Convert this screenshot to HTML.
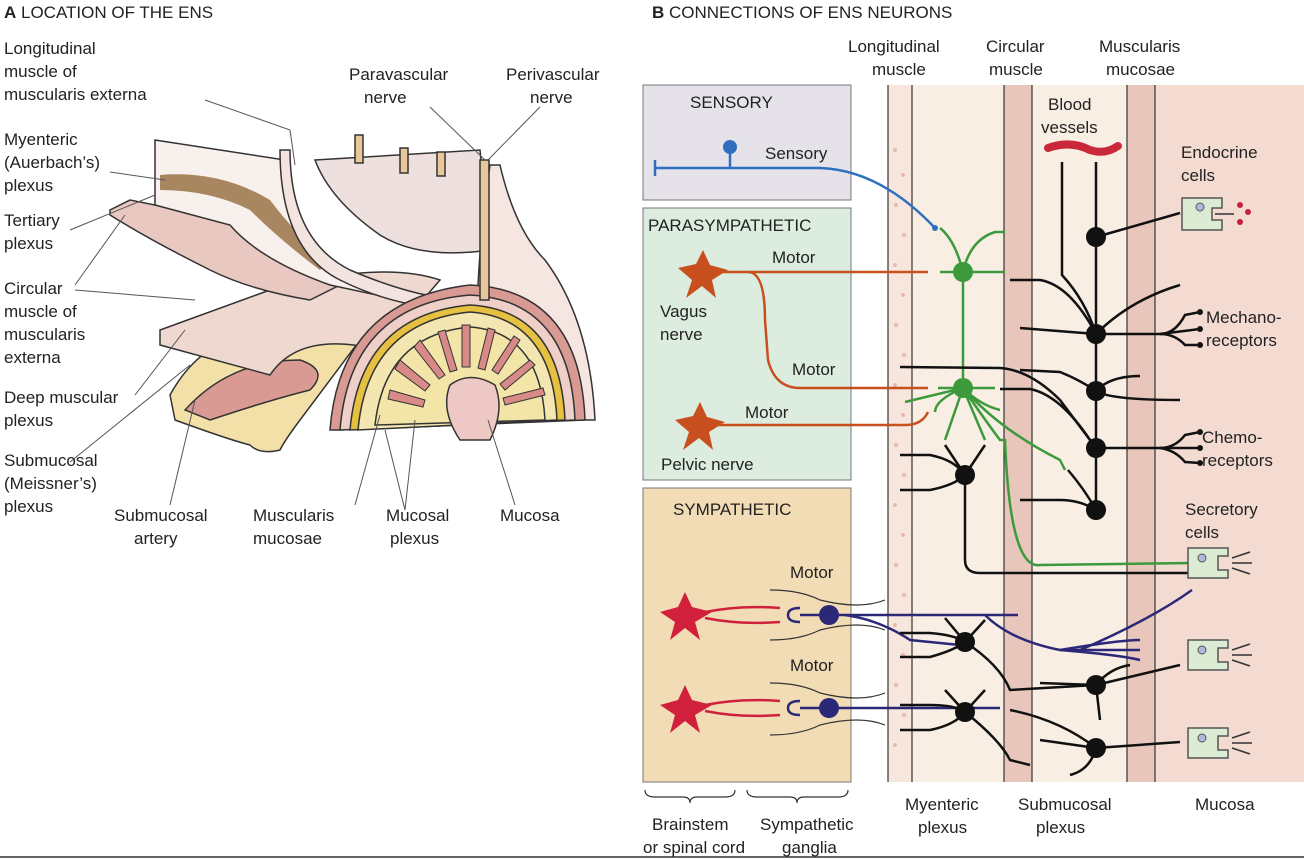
<!DOCTYPE html>
<html><head><meta charset="utf-8"><style>
body{margin:0;background:#fff;}
svg{display:block;font-family:"Liberation Sans",Arial,sans-serif;}
</style></head><body>
<svg width="1304" height="860" viewBox="0 0 1304 860" xmlns="http://www.w3.org/2000/svg">
<!-- ============ PANEL A ============ -->
<text x="4" y="18" font-size="17" fill="#222"><tspan font-weight="bold">A</tspan>  LOCATION OF THE ENS</text>
<g font-size="17" fill="#222">
<text x="4" y="54">Longitudinal</text><text x="4" y="77">muscle of</text><text x="4" y="100">muscularis externa</text>
<text x="4" y="145">Myenteric</text><text x="4" y="168">(Auerbach’s)</text><text x="4" y="191">plexus</text>
<text x="4" y="226">Tertiary</text><text x="4" y="249">plexus</text>
<text x="4" y="294">Circular</text><text x="4" y="317">muscle of</text><text x="4" y="340">muscularis</text><text x="4" y="363">externa</text>
<text x="4" y="403">Deep muscular</text><text x="4" y="426">plexus</text>
<text x="4" y="466">Submucosal</text><text x="4" y="489">(Meissner’s)</text><text x="4" y="512">plexus</text>
<text x="114" y="521">Submucosal</text><text x="134" y="544">artery</text>
<text x="253" y="521">Muscularis</text><text x="253" y="544">mucosae</text>
<text x="386" y="521">Mucosal</text><text x="390" y="544">plexus</text>
<text x="500" y="521">Mucosa</text>
<text x="349" y="80">Paravascular</text><text x="364" y="103">nerve</text>
<text x="506" y="80">Perivascular</text><text x="530" y="103">nerve</text>
</g>
<!-- drawing -->
<g stroke="#333" stroke-width="1.5">
<!-- submucosa flap lower-left -->
<path d="M170 395 Q200 340 260 330 L390 300 Q330 380 300 420 Q285 440 280 450 Q260 455 250 445 Q230 440 175 420 Z" fill="#f3e0a8"/>
<path d="M185 410 Q230 360 300 360 Q330 370 310 390 Q270 400 210 420 Z" fill="#d99a94"/>
<!-- circular muscle flap -->
<path d="M160 330 L270 290 Q380 260 440 280 L380 350 Q300 330 270 375 L160 345 Z" fill="#eed8d0"/>
<!-- tertiary/circular flap upper -->
<path d="M110 210 L130 200 L230 220 Q280 270 340 285 L310 300 Q250 290 210 270 Q150 240 110 215 Z" fill="#e8c8c0"/>
<!-- myenteric plate -->
<path d="M155 140 L285 160 Q290 240 330 270 Q365 290 400 300 L330 285 Q260 260 230 225 L155 205 Z" fill="#f7f0ec"/>
<path d="M160 175 Q220 170 270 200 Q300 240 330 260 L320 270 Q280 240 250 210 Q210 190 160 190 Z" fill="#a88660" stroke="none"/>
<!-- inner tube surface -->
<path d="M315 160 L480 150 L490 250 Q420 260 380 235 Q330 200 315 160 Z" fill="#eee0de"/>
<!-- outer layer tube -->
<path d="M290 150 Q290 240 350 270 Q420 300 470 300 Q540 300 590 415 L570 415 Q530 310 470 310 Q400 310 340 280 Q280 250 280 150 Z" fill="#f4e4e0"/>
<!-- right curved muscle layers -->
<path d="M490 165 L500 165 Q515 230 545 260 Q590 320 595 420 L480 420 Q470 300 490 165 Z" fill="#f6e6e2"/>
<path d="M330 430 Q340 300 470 285 Q580 290 585 420 L340 430 Z" fill="#d99a94"/>
<path d="M340 430 Q350 305 470 295 Q570 300 575 420 Z" fill="#eed0c8"/>
<path d="M350 430 Q360 315 470 305 Q560 310 565 420 Z" fill="#e6c040"/>
<path d="M358 430 Q368 322 470 312 Q552 318 557 420 Z" fill="#f4e6b0"/>
<path d="M375 425 Q385 335 470 327 Q540 332 545 420 Z" fill="#f3e5a8"/>
<!-- villi -->
<g fill="#d88a88" stroke="#333" stroke-width="1">
<path d="M400 360 l30 25 l-5 6 l-30 -22z"/><path d="M420 340 l25 35 l-6 4 l-25 -32z"/>
<path d="M445 330 l12 40 l-7 2 l-12 -40z"/><path d="M470 325 l0 42 l-8 0 l0 -42z"/>
<path d="M495 330 l-10 40 l-7 -2 l10 -40z"/><path d="M520 340 l-22 34 l-6 -4 l22 -34z"/>
<path d="M535 365 l-30 25 l-5 -6 l30 -24z"/><path d="M390 390 l35 10 l-2 7 l-35 -8z"/>
<path d="M545 395 l-40 10 l-2 -7 l40 -10z"/>
</g>
<path d="M450 385 Q470 370 495 385 Q505 410 490 440 L460 440 Q440 410 450 385Z" fill="#eec8c4"/>
<!-- vessels -->
<rect x="355" y="135" width="8" height="28" fill="#e8c898"/><rect x="400" y="148" width="8" height="25" fill="#e8c898"/><rect x="437" y="152" width="8" height="24" fill="#e8c898"/><rect x="480" y="160" width="9" height="140" fill="#e8c898"/>
</g>
<g stroke="#555" stroke-width="1" fill="none">
<line x1="205" y1="100" x2="290" y2="130"/><line x1="290" y1="130" x2="295" y2="165"/>
<line x1="110" y1="172" x2="165" y2="180"/><line x1="70" y1="230" x2="155" y2="195"/>
<line x1="75" y1="285" x2="125" y2="215"/><line x1="75" y1="290" x2="195" y2="300"/>
<line x1="135" y1="395" x2="185" y2="330"/><line x1="70" y1="462" x2="190" y2="365"/>
<line x1="170" y1="505" x2="195" y2="400"/><line x1="355" y1="505" x2="380" y2="415"/>
<line x1="405" y1="510" x2="385" y2="430"/><line x1="405" y1="510" x2="415" y2="420"/>
<line x1="515" y1="505" x2="488" y2="420"/><line x1="430" y1="107" x2="485" y2="160"/><line x1="540" y1="107" x2="488" y2="160"/>
</g>

<!-- ============ PANEL B ============ -->
<text x="652" y="18" font-size="17" fill="#222"><tspan font-weight="bold">B</tspan>  CONNECTIONS OF ENS NEURONS</text>
<!-- layers -->
<rect x="888" y="85" width="24" height="697" fill="#f7e6dd"/>
<rect x="912" y="85" width="92" height="697" fill="#f9eee4"/>
<rect x="1004" y="85" width="28" height="697" fill="#e8c6bc"/>
<rect x="1032" y="85" width="95" height="697" fill="#f9eee4"/>
<rect x="1127" y="85" width="28" height="697" fill="#e8c6bc"/>
<rect x="1155" y="85" width="149" height="697" fill="#f4dbd2"/>
<g stroke="#333" stroke-width="1.2">
<line x1="888" y1="85" x2="888" y2="782"/><line x1="912" y1="85" x2="912" y2="782"/>
<line x1="1004" y1="85" x2="1004" y2="782"/><line x1="1032" y1="85" x2="1032" y2="782"/>
<line x1="1127" y1="85" x2="1127" y2="782"/><line x1="1155" y1="85" x2="1155" y2="782"/>
</g>
<!-- dots in long muscle -->
<g fill="#e8b8b0">
<circle cx="895" cy="150" r="2"/><circle cx="903" cy="175" r="2"/><circle cx="896" cy="205" r="2"/><circle cx="904" cy="235" r="2"/><circle cx="895" cy="265" r="2"/><circle cx="903" cy="295" r="2"/><circle cx="896" cy="325" r="2"/><circle cx="904" cy="355" r="2"/><circle cx="895" cy="385" r="2"/><circle cx="903" cy="415" r="2"/><circle cx="896" cy="445" r="2"/><circle cx="904" cy="475" r="2"/><circle cx="895" cy="505" r="2"/><circle cx="903" cy="535" r="2"/><circle cx="896" cy="565" r="2"/><circle cx="904" cy="595" r="2"/><circle cx="895" cy="625" r="2"/><circle cx="903" cy="655" r="2"/><circle cx="896" cy="685" r="2"/><circle cx="904" cy="715" r="2"/><circle cx="895" cy="745" r="2"/>
</g>
<!-- boxes -->
<rect x="643" y="85" width="208" height="115" fill="#e6e2ea" stroke="#777"/>
<rect x="643" y="208" width="208" height="272" fill="#dcecdf" stroke="#777"/>
<rect x="643" y="488" width="208" height="294" fill="#f2dcb6" stroke="#777"/>
<g font-size="17" fill="#222">
<text x="690" y="108">SENSORY</text><text x="648" y="231">PARASYMPATHETIC</text><text x="673" y="515">SYMPATHETIC</text>
<text x="765" y="159">Sensory</text><text x="772" y="263">Motor</text><text x="792" y="375">Motor</text><text x="745" y="418">Motor</text>
<text x="660" y="317">Vagus</text><text x="660" y="340">nerve</text><text x="661" y="470">Pelvic nerve</text>
<text x="790" y="578">Motor</text><text x="790" y="671">Motor</text>
<text x="848" y="52">Longitudinal</text><text x="872" y="75">muscle</text>
<text x="986" y="52">Circular</text><text x="989" y="75">muscle</text>
<text x="1099" y="52">Muscularis</text><text x="1106" y="75">mucosae</text>
<text x="1048" y="110">Blood</text><text x="1041" y="133">vessels</text>
<text x="1181" y="158">Endocrine</text><text x="1181" y="181">cells</text>
<text x="1206" y="323">Mechano-</text><text x="1206" y="346">receptors</text>
<text x="1202" y="443">Chemo-</text><text x="1202" y="466">receptors</text>
<text x="1185" y="515">Secretory</text><text x="1185" y="538">cells</text>
<text x="905" y="810">Myenteric</text><text x="918" y="833">plexus</text>
<text x="1018" y="810">Submucosal</text><text x="1036" y="833">plexus</text>
<text x="1195" y="810">Mucosa</text>
<text x="652" y="830">Brainstem</text><text x="643" y="853">or spinal cord</text>
<text x="760" y="830">Sympathetic</text><text x="782" y="853">ganglia</text>
</g>
<!-- brackets -->
<g stroke="#333" fill="none" stroke-width="1.2">
<path d="M645 790 Q645 797 655 797 L683 797 Q690 797 690 803 Q690 797 697 797 L725 797 Q735 797 735 790"/>
<path d="M747 790 Q747 797 757 797 L790 797 Q797 797 797 803 Q797 797 804 797 L838 797 Q848 797 848 790"/>
<path d="M770 590 Q800 590 820 600 Q860 610 885 600"/><path d="M770 640 Q800 640 820 630 Q860 620 885 630"/>
<path d="M770 683 Q800 683 820 693 Q860 703 885 693"/><path d="M770 735 Q800 735 820 725 Q860 715 885 725"/>
</g>
<!-- blood vessel -->
<path d="M1048 148 Q1070 140 1090 150 Q1105 155 1118 146" stroke="#c8283a" stroke-width="8" fill="none" stroke-linecap="round"/>
<!-- sensory (blue) -->
<g stroke="#2f6fc0" stroke-width="2.5" fill="none">
<path d="M655 168 L820 168 Q880 170 935 228"/><line x1="730" y1="150" x2="730" y2="168"/><line x1="655" y1="160" x2="655" y2="176"/>
</g>
<circle cx="730" cy="147" r="7" fill="#2f6fc0"/><circle cx="935" cy="228" r="3" fill="#2f6fc0"/>
<!-- parasympathetic orange -->
<g stroke="#c8501e" stroke-width="2.5" fill="none">
<path d="M705 272 L928 272"/><path d="M748 272 Q765 272 765 320 L768 360 Q775 388 800 388 L928 388"/>
<path d="M705 425 L905 425 Q922 425 928 412"/>
</g>
<g fill="#c8501e">
<path d="M703 250 L710 265 L728 270 L712 280 L716 298 L702 286 L686 298 L692 280 L678 268 L696 264Z"/>
<path d="M700 402 L707 417 L725 422 L709 432 L713 450 L699 438 L683 450 L689 432 L675 420 L693 416Z"/>
</g>
<!-- sympathetic red & purple -->
<g fill="#d0203c">
<path d="M685 592 L692 607 L712 612 L695 622 L700 640 L685 628 L670 640 L675 622 L660 612 L678 607Z"/>
<path d="M685 685 L692 700 L712 705 L695 715 L700 733 L685 721 L670 733 L675 715 L660 705 L678 700Z"/>
</g>
<g stroke="#d0203c" stroke-width="2.5" fill="none">
<path d="M705 612 Q740 605 780 608"/><path d="M705 618 Q740 625 780 622"/>
<path d="M705 705 Q740 698 780 701"/><path d="M705 711 Q740 718 780 715"/>
</g>
<g stroke="#2c2878" stroke-width="2.5" fill="none">
<path d="M800 608 Q788 608 788 615 Q788 622 800 622"/><path d="M800 701 Q788 701 788 708 Q788 715 800 715"/>
<path d="M800 615 L829 615 L1018 615"/><path d="M845 615 Q880 620 910 640 L960 645"/>
<path d="M985 615 Q1010 640 1060 650 L1140 650"/><path d="M1060 650 Q1120 655 1140 660"/><path d="M1060 650 Q1120 640 1140 640"/>
<path d="M1080 650 Q1150 620 1192 590"/>
<path d="M800 708 L1000 708"/>
</g>
<circle cx="829" cy="615" r="10" fill="#2c2878"/><circle cx="829" cy="708" r="10" fill="#2c2878"/>
<!-- green neurons -->
<g stroke="#3c9a3c" stroke-width="2.5" fill="none">
<path d="M963 272 Q955 240 940 228"/><path d="M963 272 Q970 240 995 232 L1005 232"/><path d="M963 272 L1005 272"/><path d="M940 272 L963 272"/>
<path d="M963 272 L963 388"/>
<path d="M963 388 L938 388"/><path d="M963 388 L995 388"/><path d="M963 388 L905 402"/><path d="M963 388 Q935 400 935 412"/>
<path d="M963 388 Q980 405 1000 410"/><path d="M963 388 L945 440"/><path d="M963 388 L985 440"/>
<path d="M963 388 Q1000 430 1060 460 L1065 470"/>
<path d="M963 388 Q985 420 1000 440 L1005 440 Q1010 570 1040 565 L1192 563"/>
</g>
<circle cx="963" cy="272" r="10" fill="#3c9a3c"/><circle cx="963" cy="388" r="10" fill="#3c9a3c"/>
<!-- black neurons -->
<g stroke="#111" stroke-width="2.5" fill="none">
<path d="M1062 162 L1062 275 Q1085 300 1096 334"/><path d="M1096 162 L1096 510"/>
<path d="M1096 237 L1180 213"/>
<path d="M1010 280 L1040 280 Q1070 285 1096 334"/><path d="M1020 328 L1096 334"/><path d="M1096 334 Q1130 300 1180 285"/>
<path d="M1096 334 L1160 334 Q1175 334 1185 315 L1200 312"/><path d="M1160 334 L1200 329"/><path d="M1160 334 Q1175 334 1185 345 L1200 345"/>
<path d="M900 367 L1000 368 Q1030 370 1060 400 L1096 448"/><path d="M1000 389 L1030 389 Q1060 395 1090 440"/>
<path d="M1020 370 L1060 372 Q1080 380 1096 391"/><path d="M1096 391 Q1110 376 1140 376"/><path d="M1096 391 Q1110 400 1180 400"/>
<path d="M1096 448 L1160 448 Q1175 448 1185 435 L1200 432"/><path d="M1160 448 L1200 448"/><path d="M1160 448 Q1175 450 1185 462 L1200 463"/>
<path d="M1068 470 Q1085 490 1096 510"/><path d="M1020 500 L1060 500 Q1080 500 1096 510"/>
<path d="M965 475 L945 445"/><path d="M965 475 L985 445"/><path d="M900 455 L930 455 Q955 460 965 475"/><path d="M900 490 L930 490 Q955 485 965 475"/>
<path d="M965 475 L965 560 Q965 573 980 573 L1192 573"/>
<path d="M965 642 L945 618"/><path d="M965 642 L985 620"/><path d="M900 633 L930 633 Q955 635 965 642"/><path d="M900 657 L930 657 Q955 650 965 642"/>
<path d="M965 642 Q1000 665 1010 690 L1096 685"/><path d="M1096 685 Q1110 668 1130 665"/><path d="M1096 685 L1180 665"/><path d="M1096 685 L1100 720"/><path d="M1040 683 L1096 685"/>
<path d="M965 712 L945 690"/><path d="M965 712 L985 690"/><path d="M900 705 L930 705 Q955 705 965 712"/><path d="M900 730 L930 730 Q955 725 965 712"/>
<path d="M965 712 Q1000 740 1010 760 L1030 765"/><path d="M1040 740 L1096 748"/><path d="M1096 748 L1180 742"/><path d="M1096 748 Q1090 770 1070 775"/><path d="M1010 710 Q1060 720 1096 748"/>
</g>
<g fill="#111">
<circle cx="1096" cy="237" r="10"/><circle cx="1096" cy="334" r="10"/><circle cx="1096" cy="391" r="10"/><circle cx="1096" cy="448" r="10"/><circle cx="1096" cy="510" r="10"/>
<circle cx="965" cy="475" r="10"/><circle cx="965" cy="642" r="10"/><circle cx="1096" cy="685" r="10"/><circle cx="965" cy="712" r="10"/><circle cx="1096" cy="748" r="10"/>
<circle cx="1200" cy="312" r="3"/><circle cx="1200" cy="329" r="3"/><circle cx="1200" cy="345" r="3"/><circle cx="1200" cy="432" r="3"/><circle cx="1200" cy="448" r="3"/><circle cx="1200" cy="463" r="3"/>
</g>
<!-- cells -->
<g fill="#dcecd4" stroke="#555" stroke-width="1.5">
<path d="M1182 198 h40 v10 h-10 v12 h10 v10 h-40 z"/>
<path d="M1188 548 h40 v8 h-10 v14 h10 v8 h-40 z"/>
<path d="M1188 640 h40 v8 h-10 v14 h10 v8 h-40 z"/>
<path d="M1188 728 h40 v8 h-10 v14 h10 v8 h-40 z"/>
</g>
<g fill="#b0b8e0" stroke="#555"><circle cx="1200" cy="207" r="4"/><circle cx="1202" cy="558" r="4"/><circle cx="1202" cy="650" r="4"/><circle cx="1202" cy="738" r="4"/></g>
<g fill="#c8203c"><circle cx="1240" cy="205" r="3"/><circle cx="1248" cy="212" r="3"/><circle cx="1240" cy="222" r="3"/></g>
<g stroke="#333" stroke-width="1.5"><line x1="1215" y1="214" x2="1234" y2="214"/>
<line x1="1232" y1="558" x2="1250" y2="552"/><line x1="1232" y1="563" x2="1252" y2="563"/><line x1="1232" y1="568" x2="1250" y2="574"/>
<line x1="1232" y1="650" x2="1250" y2="644"/><line x1="1232" y1="655" x2="1252" y2="655"/><line x1="1232" y1="660" x2="1250" y2="666"/>
<line x1="1232" y1="738" x2="1250" y2="732"/><line x1="1232" y1="743" x2="1252" y2="743"/><line x1="1232" y1="748" x2="1250" y2="754"/></g>
<line x1="0" y1="857" x2="1304" y2="857" stroke="#333" stroke-width="1.5"/>
</svg>
</body></html>
